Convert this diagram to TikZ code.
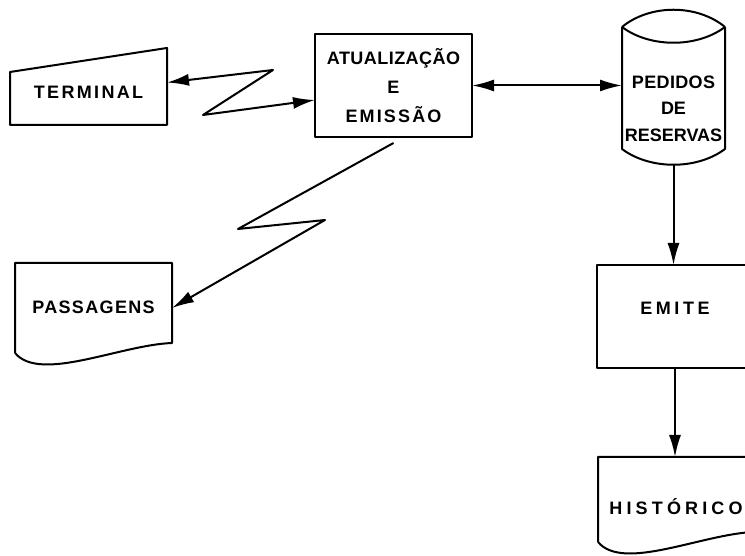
\documentclass[tikz,border=0pt]{standalone}
\usepackage{fontspec}
\setmainfont{Liberation Sans}
\usetikzlibrary{arrows.meta}

% letter spaced caps
\newcommand{\spc}[2]{{\addfontfeature{LetterSpace=#1}#2}}

\tikzset{
	>={Latex[length=22pt,width=12pt]},
	txt/.style={font=\bfseries\fontsize{18}{29}\selectfont, align=center},
	hold/.style={draw=none, inner sep=0pt, outer sep=0pt},
	box/.style={draw, inner sep=0pt, outer sep=0pt, txt},
}

\begin{document}
\begin{tikzpicture}[x=1pt, y=1pt, line width=2pt, line join=round]
	\useasboundingbox (0,0) rectangle (745,556);

	% terminal (manual input)
	\node[hold, minimum width=157pt, minimum height=77pt, label={[txt, yshift=-6pt]center:\spc{13}{TERMINAL}}] (term) at (88.5,469.5) {};
	\draw (term.south west) -- (term.south east) -- (term.north east) -- ([yshift=-24pt]term.north west) -- cycle;

	% process
	\node[box, minimum width=157pt, minimum height=103pt] (proc) at (393.5,470.5) {\spc{2.5}{ATUALIZAÇÃO}\\E\\\spc{12}{EMISSÃO}};

	% disk file
	\node[hold, minimum width=103pt, minimum height=156pt, label={[txt, font=\bfseries\fontsize{18}{26.5}\selectfont, yshift=-21.5pt]center:{\spc{2}{PEDIDOS}\\DE\\RESERVAS}}] (db) at (673.5,469) {};
	\draw ([yshift=-18pt]db.north west) .. controls +(28,23) and +(-28,23) .. ([yshift=-18pt]db.north east);
	\draw ([yshift=-18pt]db.north west) .. controls +(28,-21) and +(-28,-21) .. ([yshift=-18pt]db.north east);
	\draw ([yshift=-18pt]db.north west) -- ([yshift=16pt]db.south west) .. controls +(28,-21) and +(-28,-21) .. ([yshift=16pt]db.south east) -- ([yshift=-18pt]db.north east);

	\node[box, minimum width=156pt, minimum height=103pt, label={[txt, yshift=8.5pt]center:\spc{20}{EMITE}}] (emite) at (675,239.5) {};

	% printed documents
	\node[hold, minimum width=157pt, minimum height=90pt, label={[txt, yshift=1pt]center:\spc{7.5}{PASSAGENS}}] (pass) at (93.5,248) {};
	\draw (pass.south west) -- (pass.north west) -- (pass.north east) -- ([yshift=10pt]pass.south east) .. controls +(-52,-2) and +(25,-30) .. (pass.south west);

	\node[hold, minimum width=156pt, minimum height=85pt, label={[txt, yshift=-7.5pt]center:\spc{23}{HISTÓRICO}}] (hist) at (676,56.5) {};
	\draw (hist.south west) -- (hist.north west) -- (hist.north east) -- ([yshift=10pt]hist.south east) .. controls +(-52,-2) and +(25,-30) .. (hist.south west);

	% links
	\draw[<->] ([yshift=4pt]term.east) -- (273,486) -- (203,441) -- ([yshift=-14.5pt]proc.west);
	\draw[<->] (proc.east) -- (proc.east -| db.west);
	\draw[->] ([yshift=-6pt]proc.south) -- (238,327) -- (325,336) -- (pass.east);
	\draw[->] (db.south) -- (db.south |- emite.north);
	\draw[->] (emite.south) -- (emite.south |- hist.north);
\end{tikzpicture}
\end{document}
